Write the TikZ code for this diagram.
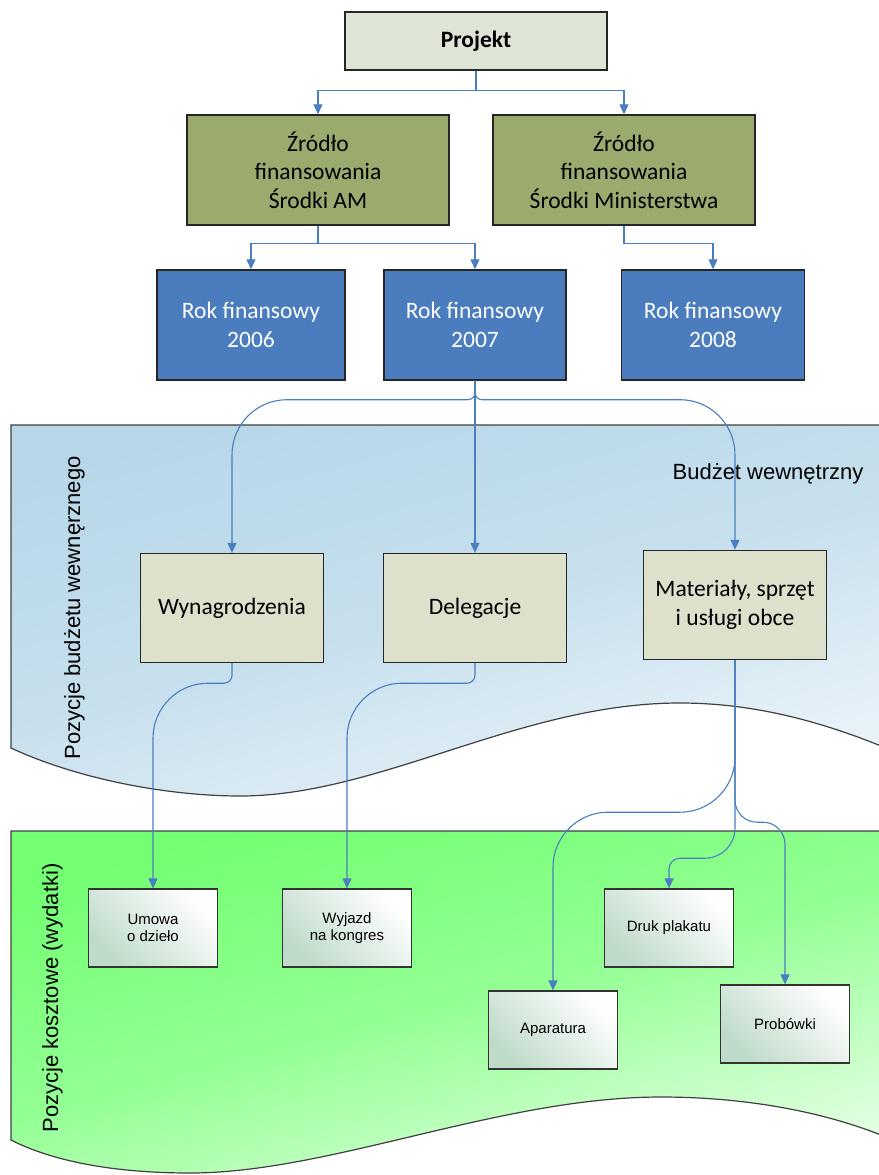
\documentclass[tikz,border=0pt]{standalone}
\usepackage{fontspec}
\setmainfont{Carlito}
\newfontfamily\arialfont{Liberation Sans}
\usetikzlibrary{arrows.meta}
\definecolor{projfill}{RGB}{222,229,212}
\definecolor{zrodlofill}{RGB}{155,171,110}
\definecolor{rokfill}{RGB}{75,125,190}
\definecolor{pozfill}{RGB}{221,224,203}
\definecolor{wydfill}{RGB}{190,218,200}
\definecolor{linkblue}{RGB}{74,126,190}
\definecolor{budzetA}{RGB}{183,215,232}
\definecolor{budzetB}{RGB}{234,243,249}
\definecolor{kosztA}{RGB}{114,255,114}
\definecolor{kosztB}{RGB}{224,255,224}

\begin{document}
\begin{tikzpicture}[x=1pt,y=-1pt,
		box/.style={draw=black!85,line width=1.4pt,align=center,inner sep=0pt,font=\fontsize{23.5}{28.5}\selectfont},
		proj/.style={box,fill=projfill,minimum width=262pt,minimum height=58pt,font=\fontsize{23.5}{28.5}\selectfont\bfseries},
		zrodlo/.style={box,fill=zrodlofill,minimum width=262pt,minimum height=110pt},
		rok/.style={box,fill=rokfill,text=white,minimum height=110pt},
		pozycja/.style={box,fill=pozfill,minimum width=183pt,minimum height=109pt},
		wydatek/.style={draw=black!80,line width=1.2pt,align=center,inner sep=0pt,top color=white,bottom color=wydfill,shading angle=-45,minimum width=129pt,minimum height=78pt,font=\arialfont\fontsize{15}{17}\selectfont},
		link/.style={draw=linkblue,line width=1.1pt,-{Triangle[length=10pt,width=9pt]}},
		band/.style={draw=black!75,line width=1.2pt},
		bandlabel/.style={font=\arialfont\fontsize{22}{26}\selectfont}]
		\useasboundingbox (0,0) rectangle (878,1175);
		\shade[band,top color=budzetA,bottom color=budzetB,middle color=budzetA!70!budzetB,shading angle=15] (11,425) -- (886,425) -- (886,748) .. controls (830,725) and (760,703) .. (680,703) .. controls (520,703) and (380,796) .. (240,796) .. controls (170,796) and (80,780) .. (11,748) -- cycle;
		\shade[band,top color=kosztA,bottom color=kosztB,middle color=kosztA!70!kosztB,shading angle=15] (11,831) -- (886,831) -- (886,1137) .. controls (820,1110) and (740,1097) .. (661,1097) .. controls (500,1097) and (330,1173) .. (190,1173) .. controls (110,1173) and (50,1160) .. (11,1140) -- cycle;
		\node[bandlabel,rotate=90,anchor=base] (lbudzet) at (80,608) {Pozycje budżetu wewnęrznego};
		\node[bandlabel,anchor=base] (bw) at (768,479) {Budżet wewnętrzny};
		\node[bandlabel,rotate=90,anchor=base] (lkoszt) at (58,998) {Pozycje kosztowe (wydatki)};
		\node[proj] (proj) at (476,41) {Projekt};
		\node[zrodlo] (zam) at (318,170) {Źródło\\finansowania\\Środki AM};
		\node[zrodlo] (zmin) at (624,170) {Źródło\\finansowania\\Środki Ministerstwa};
		\node[rok,minimum width=188pt] (r2006) at (251,325) {Rok finansowy\\2006};
		\node[rok,minimum width=182pt] (r2007) at (475,325) {Rok finansowy\\2007};
		\node[rok,minimum width=183pt] (r2008) at (713,325) {Rok finansowy\\2008};
		\node[pozycja] (wyn) at (232,608) {Wynagrodzenia};
		\node[pozycja] (del) at (475,608) {Delegacje};
		\node[pozycja] (mat) at (735,605) {Materiały, sprzęt\\i usługi obce};
		\node[wydatek] (umowa) at (153,928) {Umowa\\o dzieło};
		\node[wydatek] (wyjazd) at (347,928) {Wyjazd\\na kongres};
		\node[wydatek] (druk) at (669,928) {Druk plakatu};
		\node[wydatek] (apar) at (553,1030) {Aparatura};
		\node[wydatek] (prob) at (785,1024) {Probówki};
		\draw[link] (proj.south) -- ++(0,20) -| (zam.north);
		\draw[link] (proj.south) -- ++(0,20) -| (zmin.north);
		\draw[link] (zam.south) -- ++(0,18) -| (r2006.north);
		\draw[link] (zam.south) -- ++(0,18) -| (r2007.north);
		\draw[link] (zmin.south) -- ++(0,18) -| (r2008.north);
		\draw[link] (r2007.south) -- (del.north);
		\draw[link] (r2007.south) [rounded corners=7] -- ++(0,19) coordinate (j1) [rounded corners=55] -- (j1 -| wyn.north) -- (wyn.north);
		\draw[link] (r2007.south) [rounded corners=7] -- ++(0,19) coordinate (j2) [rounded corners=55] -- (j2 -| mat.north) -- (mat.north);
		\draw[link] (wyn.south) [rounded corners=8] -- ++(0,20) coordinate (j3) [rounded corners=55] -- (j3 -| umowa.north) -- (umowa.north);
		\draw[link] (del.south) [rounded corners=8] -- ++(0,20) coordinate (j4) [rounded corners=55] -- (j4 -| wyjazd.north) -- (wyjazd.north);
		\draw[link,rounded corners=55] (mat.south) -- ++(0,152) -| (apar.north);
		\draw[link] (mat.south) [rounded corners=30] -- ++(0,198) coordinate (j5) [rounded corners=11] -- (j5 -| druk.north) -- (druk.north);
		\draw[link,rounded corners=22] (mat.south) -- ++(0,162) -| (prob.north);
\end{tikzpicture}
\end{document}
